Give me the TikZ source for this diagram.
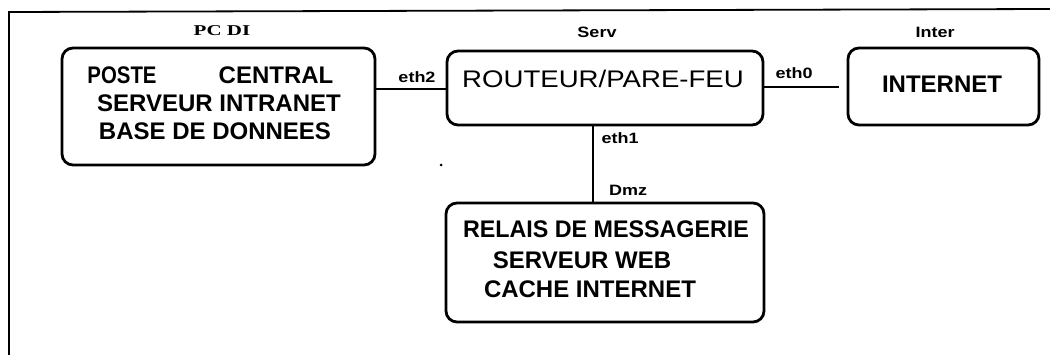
\documentclass[tikz,border=0pt]{standalone}
\usepackage{fontspec}
\setmainfont{Liberation Sans}
\newfontfamily\serifbold{Liberation Serif}
\usepackage{graphicx}
\begin{document}
\begin{tikzpicture}[x=1pt,y=-1pt,
  box/.style={draw, line width=2.8pt, rounded corners=11pt, inner sep=0pt},
  link/.style={line width=2pt},
  big/.style={font=\fontsize{24}{24}\selectfont\bfseries, inner sep=0pt},
  tag/.style={font=\fontsize{15}{15}\selectfont\bfseries, inner sep=0pt},
  frameline/.style={line width=1.8pt}]
\useasboundingbox (0,0) rectangle (1050,355);
% frame
\draw[frameline] (9,355) -- (9,12) -- (1050,9);
% boxes
\node[box, minimum width=313pt, minimum height=117pt] (pc) at (218.5,106.5) {};
\node[box, minimum width=316pt, minimum height=74pt] (router) at (605,88) {};
\node[box, minimum width=191pt, minimum height=77pt] (inet) at (943.5,86.5) {};
\node[box, minimum width=318pt, minimum height=119pt] (dmz) at (605,262.5) {};
% box texts
\node[big] (t1a) at (122,75) {\scalebox{0.85}[1]{POSTE}};
\node[big] (t1b) at (276,75) {CENTRAL};
\node[big] (t2) at (219,103) {SERVEUR INTRANET};
\node[big] (t3) at (215,131) {BASE DE DONNEES};
\node[big, font=\fontsize{24}{24}\selectfont] (tr) at (603,79) {\scalebox{1.15}[1]{ROUTEUR/PARE-FEU}};
\node[big] (ti) at (942,84) {\scalebox{1.0}[1]{INTERNET}};
\node[big] (d1) at (606,229) {\scalebox{0.97}[1]{RELAIS DE MESSAGERIE}};
\node[big] (d2) at (582,260) {SERVEUR WEB};
\node[big] (d3) at (590,289) {CACHE INTERNET};
% tags
\node[inner sep=0pt, font=\fontsize{15}{15}\selectfont\serifbold\bfseries] (lpc) at (222,31) {\scalebox{1.4}[1]{PC DI}};
\node[tag] (lserv) at (597,32) {\scalebox{1.2}[1]{Serv}};
\node[tag] (linter) at (935,32) {\scalebox{1.2}[1]{Inter}};
\node[tag] (leth2) at (417,77) {\scalebox{1.2}[1]{eth2}};
\node[tag] (leth0) at (794,73) {\scalebox{1.2}[1]{eth0}};
\node[tag] (leth1) at (620,138) {\scalebox{1.2}[1]{eth1}};
\node[tag] (ldmz) at (628,190) {\scalebox{1.2}[1]{Dmz}};
% connectors
\coordinate (ya) at (0,89);
\coordinate (yb) at (0,87);
\coordinate (vx) at (593,0);
\draw[link] (pc.east |- ya) -- (router.west |- ya);
\draw[link, shorten >=8pt] (router.east |- yb) -- (inet.west |- yb);
\draw[link] (router.south -| vx) -- (dmz.north -| vx);
% stray dot
\fill (441,165) circle (1.5pt);
\end{tikzpicture}
\end{document}
